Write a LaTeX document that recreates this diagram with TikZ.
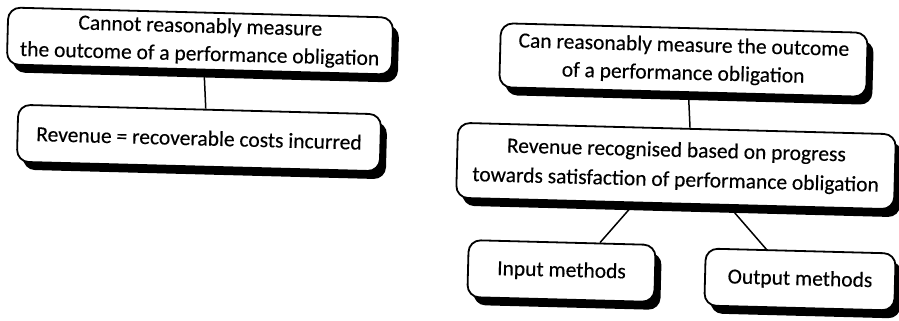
\documentclass[tikz,border=0pt]{standalone}
\usepackage{fontspec}
\setmainfont{Carlito}
\newfontfamily\boxfont{Carlito}[FakeBold=0.3]
\usetikzlibrary{shadows,calc}
\begin{document}
\begin{tikzpicture}[x=1pt,y=-1pt,
  box/.style={draw=black, line width=1.8pt, rounded corners=12pt, fill=white,
    align=center, inner sep=0pt, rotate=-1.5,
    font=\boxfont\fontsize{21.5}{28}\selectfont,
    general shadow={fill=black, shadow xshift=6pt, shadow yshift=-8pt}},
  link/.style={line width=1.5pt}]
\useasboundingbox (0,0) rectangle (899,321);
\node[box, minimum width=385pt, minimum height=57pt] (A) at (200,41)
  {Cannot reasonably measure\\the outcome of a performance obligation};
\node[box, minimum width=363pt, minimum height=57pt] (B) at (199,138)
  {Revenue = recoverable costs incurred};
\node[box, minimum width=367pt, minimum height=64pt] (C) at (683.5,60)
  {Can reasonably measure the outcome\\of a performance obligation};
\node[box, minimum width=438pt, minimum height=75pt,
  font=\boxfont\fontsize{21.5}{29.5}\selectfont] (D) at (676,166)
  {Revenue recognised based on progress\\towards satisfaction of performance obligation};
\node[box, minimum width=187pt, minimum height=57pt] (E) at (561.5,271)
  {Input methods};
\node[box, minimum width=190pt, minimum height=57pt] (F) at (800,279.5)
  {Output methods};
\draw[link] ($(A.south)+(5,4)$) -- ($(B.north)+(6,0)$);
\draw[link] ($(C.south)+(6,4)$) -- ($(D.north)+(13,0)$);
\draw[link] ($(D.south west)!0.4!(D.south east)+(0,4)$) -- ($(E.north west)!0.7!(E.north east)$);
\draw[link] ($(D.south west)!0.63!(D.south east)+(0,4)$) -- ($(F.north west)!0.32!(F.north east)$);
\end{tikzpicture}
\end{document}
